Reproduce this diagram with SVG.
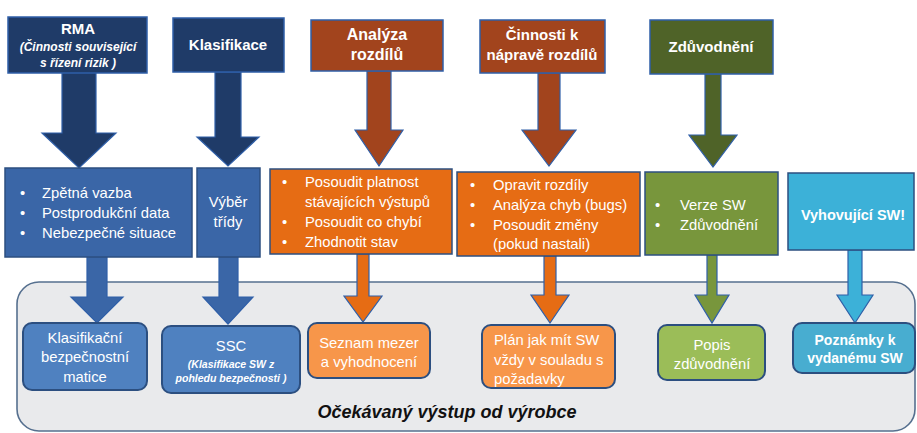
<svg xmlns="http://www.w3.org/2000/svg" width="917" height="433" viewBox="0 0 917 433">
  <style>
    text { font-family: "Liberation Sans", Arial, sans-serif; fill: #ffffff; }
    .hd { font-size: 15px; font-weight: bold; text-anchor: middle; }
    .hdi { font-size: 12px; font-style: italic; font-weight: bold; text-anchor: middle; }
    .li { font-size: 14.8px; }
    .ct { font-size: 14.8px; text-anchor: middle; }
    .sm { font-size: 10.5px; font-style: italic; font-weight: bold; text-anchor: middle; }
    .hbox { stroke: #2f5fa8; stroke-width: 1.5; }
    .mbox { stroke: #2c4f80; stroke-width: 1.5; }
    .obox { stroke: #2c4f80; stroke-width: 2; }
    .arr { stroke: #2f5fa8; stroke-width: 1.2; stroke-linejoin: miter; }
    .navy { fill: #1f3b68; }
    .brown { fill: #a2441d; }
    .dgreen { fill: #4f6328; }
    .mblue { fill: #3a66a7; }
    .morange { fill: #e66c14; }
    .mgreen { fill: #78963c; }
    .mcyan { fill: #3cb1d8; }
    .lblue { fill: #4f81c0; }
    .lorange { fill: #f7964a; }
    .lgreen { fill: #9bbd58; }
    .lcyan { fill: #48add0; }
  </style>

  <rect width="917" height="433" fill="#ffffff"/>

  <!-- container for manufacturer outputs -->
  <g id="vystup">
    <rect x="17" y="282" width="898" height="149" rx="22" fill="#e9eaec" stroke="#56708f" stroke-width="1.6"/>
    <text x="447" y="418" style="fill:#111111;font-size:18px;font-weight:bold;font-style:italic;text-anchor:middle">Očekávaný výstup od výrobce</text>
  </g>

  <g id="connectors">
    <!-- header arrows -->
    <polygon class="arr navy" points="62,72 96,72 96,133 116,133 79,168 42,133 62,133"/>
    <polygon class="arr navy" points="215,72 241,72 241,137 259,137 228,166 197,137 215,137"/>
    <polygon class="arr brown" points="367,71 391,71 391,130 403,130 379,166 355,130 367,130"/>
    <polygon class="arr brown" points="538,73 560,73 560,130 576,130 549,166 522,130 538,130"/>
    <polygon class="arr dgreen" points="705,74 721,74 721,135 737,135 713,167 689,135 705,135"/>
    <!-- lower arrows -->
    <polygon class="arr mblue" points="87,257 107,257 107,297 123,297 97,323 71,297 87,297"/>
    <polygon class="arr mblue" points="219,257 238,257 238,297 253,297 228,324 203,297 219,297"/>
    <polygon class="arr morange" points="357,254 369,254 369,296 382,296 363,322 344,296 357,296"/>
    <polygon class="arr morange" points="544,256 556,256 556,295 569,295 550,323 531,295 544,295"/>
    <polygon class="arr mgreen" points="707,255 717,255 717,295 729,295 712,323 695,295 707,295"/>
    <polygon class="arr mcyan" points="848,250 862,250 862,295 873,295 855,323 837,295 848,295"/>
  </g>

  <!-- header row -->
  <g id="rma">
    <rect class="hbox navy" x="8" y="17" width="139" height="56"/>
    <text class="hd" x="78" y="34">RMA</text>
    <text class="hdi" x="78" y="51">(Činnosti související</text>
    <text class="hdi" x="78" y="67">s řízení rizik )</text>
  </g>
  <g id="klasifikace">
    <rect class="hbox navy" x="173" y="18" width="111" height="54"/>
    <text class="hd" x="228" y="50">Klasifikace</text>
  </g>
  <g id="analyza">
    <rect class="hbox brown" x="311" y="20" width="132" height="51"/>
    <text class="hd" x="377" y="40" style="font-size:16px">Analýza</text>
    <text class="hd" x="377" y="60" style="font-size:16px">rozdílů</text>
  </g>
  <g id="cinnosti">
    <rect class="hbox brown" x="480" y="20" width="125" height="53"/>
    <text class="hd" x="542" y="40">Činnosti k</text>
    <text class="hd" x="542" y="60">nápravě rozdílů</text>
  </g>
  <g id="zduvodneni">
    <rect class="hbox dgreen" x="650" y="20" width="123" height="54"/>
    <text class="hd" x="711" y="52">Zdůvodnění</text>
  </g>

  <!-- middle row -->
  <g id="vstupy">
    <rect class="mbox mblue" x="5" y="168" width="187" height="89"/>
    <text class="li" x="20" y="198">•</text><text class="li" x="42" y="198">Zpětná vazba</text>
    <text class="li" x="20" y="218">•</text><text class="li" x="42" y="218">Postprodukční data</text>
    <text class="li" x="20" y="238">•</text><text class="li" x="42" y="238">Nebezpečné situace</text>
  </g>
  <g id="vyber">
    <rect class="mbox mblue" x="197" y="168" width="63" height="89"/>
    <text class="ct" x="228" y="207">Výběr</text>
    <text class="ct" x="228" y="227">třídy</text>
  </g>
  <g id="posoudit">
    <rect class="mbox morange" x="270" y="169" width="182" height="85"/>
    <text class="li" x="282" y="187">•</text><text class="li" x="305" y="187">Posoudit platnost</text>
    <text class="li" x="305" y="207">stávajících výstupů</text>
    <text class="li" x="282" y="227">•</text><text class="li" x="305" y="227">Posoudit co chybí</text>
    <text class="li" x="282" y="247">•</text><text class="li" x="305" y="247">Zhodnotit stav</text>
  </g>
  <g id="opravit">
    <rect class="mbox morange" x="457" y="172" width="183" height="84"/>
    <text class="li" x="470" y="190">•</text><text class="li" x="493" y="190">Opravit rozdíly</text>
    <text class="li" x="470" y="210">•</text><text class="li" x="493" y="210">Analýza chyb (bugs)</text>
    <text class="li" x="470" y="230">•</text><text class="li" x="493" y="230">Posoudit změny</text>
    <text class="li" x="493" y="249">(pokud nastali)</text>
  </g>
  <g id="verze">
    <rect class="mbox mgreen" x="645" y="172" width="133" height="83"/>
    <text class="li" x="655" y="210">•</text><text class="li" x="680" y="210">Verze SW</text>
    <text class="li" x="655" y="230">•</text><text class="li" x="680" y="230">Zdůvodnění</text>
  </g>
  <g id="vyhovujici">
    <rect class="mbox mcyan" x="788" y="173" width="126" height="77"/>
    <text class="ct" x="853" y="220" style="font-weight:bold;font-size:14.5px">Vyhovující SW!</text>
  </g>

  <!-- output row -->
  <g id="matice">
    <rect class="obox lblue" x="23" y="323" width="124" height="67" rx="9"/>
    <text class="ct" x="85" y="343">Klasifikační</text>
    <text class="ct" x="85" y="362">bezpečnostní</text>
    <text class="ct" x="85" y="382">matice</text>
  </g>
  <g id="ssc">
    <rect class="obox lblue" x="162" y="326" width="138" height="67" rx="9"/>
    <text class="ct" x="231" y="351">SSC</text>
    <text class="sm" x="231" y="368">(Klasifikace SW z</text>
    <text class="sm" x="231" y="382">pohledu bezpečnosti )</text>
  </g>
  <g id="seznam">
    <rect class="obox lorange" x="308" y="323" width="122" height="55" rx="9"/>
    <text class="ct" x="369" y="348">Seznam mezer</text>
    <text class="ct" x="369" y="367">a vyhodnocení</text>
  </g>
  <g id="plan">
    <rect class="obox lorange" x="482" y="325" width="133" height="63" rx="9"/>
    <text class="li" x="494" y="345">Plán jak mít SW</text>
    <text class="li" x="494" y="365">vždy v souladu s</text>
    <text class="li" x="494" y="384">požadavky</text>
  </g>
  <g id="popis">
    <rect class="obox lgreen" x="658" y="325" width="107" height="55" rx="9"/>
    <text class="ct" x="712" y="350">Popis</text>
    <text class="ct" x="712" y="369">zdůvodnění</text>
  </g>
  <g id="poznamky">
    <rect class="obox lcyan" x="793" y="323" width="122" height="50" rx="9"/>
    <text class="ct" x="855" y="345" style="font-weight:bold;font-size:14px">Poznámky k</text>
    <text class="ct" x="855" y="363" style="font-weight:bold;font-size:14px">vydanému SW</text>
  </g>
</svg>
